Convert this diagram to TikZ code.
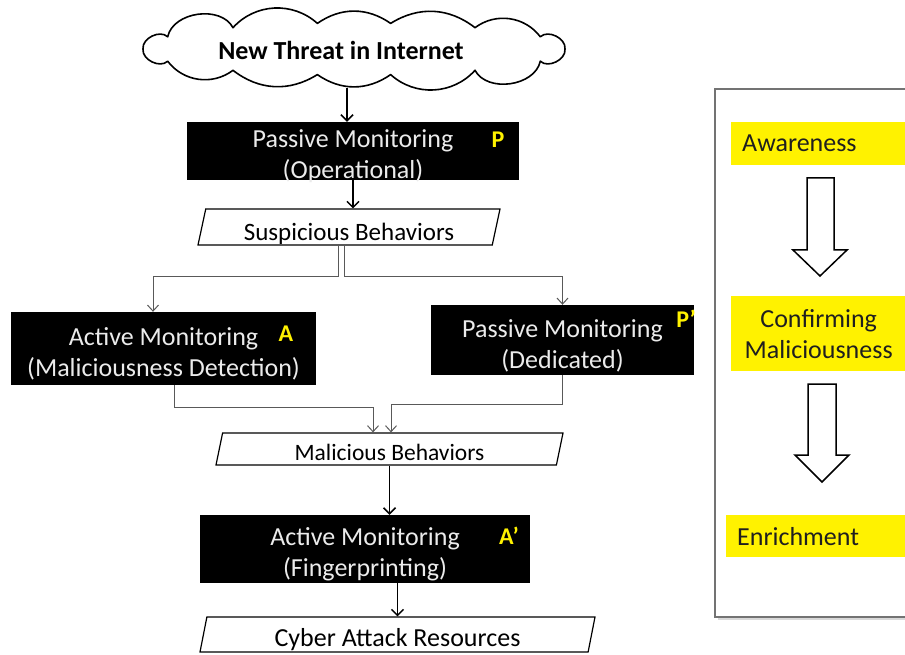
\documentclass[tikz,border=0pt]{standalone}
\usepackage{fontspec}
\setmainfont{Carlito}
\usetikzlibrary{shapes.geometric,arrows.meta}
\begin{document}
\begin{tikzpicture}[x=1pt,y=-1pt,
 blackbox/.style={fill=black, inner sep=0},
 boxtext/.style={text=white!92!black, inner sep=0, align=center, font=\fontsize{26}{31}\selectfont, yshift=-5.5pt},
 para/.style={draw=black, line width=1.2pt, trapezium, trapezium left angle=74, trapezium right angle=106, trapezium stretches body, inner sep=0, text depth=0pt},
 mainarr/.style={draw=black, line width=1.5pt, -{Straight Barb[length=6pt,width=12pt]}},
 thinarr/.style={draw=black!65, line width=1pt, -{Straight Barb[length=6pt,width=11pt]}},
 tag/.style={text=yellow, font=\bfseries\fontsize{24}{24}\selectfont, inner sep=0},
 ybox/.style={fill=yellow, inner sep=0, text=black!88, font=\fontsize{26}{31}\selectfont, anchor=north west},
 hollow/.style={draw=black, line width=1.5pt, fill=white, line join=miter},
 panel/.style={draw=black!55, line width=1.5pt},
 cloudline/.style={draw=black, line width=1.6pt, fill=white, line join=round}
]
\useasboundingbox (0,0) rectangle (905,655);

% cloud
\node[ellipse, minimum width=424, minimum height=78, inner sep=0] (cloud) at (354,49) {};
\draw[cloudline] ({354+211},49)
  \foreach \t/\b in {28/70,55/45,80/35,100/35,125/45,152/70,180/70,208/70,235/45,260/35,280/35,305/45,332/70,360/70}
  { to[bend right=\b] ({354+211*cos(\t)},{49-26*sin(\t)}) } -- cycle;
\node[font=\bfseries\fontsize{26}{30}\selectfont, inner sep=0] (cloudtxt) at (341,50) {New Threat in Internet};

% black boxes
\node[blackbox, minimum width=332, minimum height=58,
  label={[boxtext]center:Passive Monitoring\\(Operational)}] (P) at (353,151) {};
\node[blackbox, minimum width=305, minimum height=73,
  label={[boxtext]center:Active Monitoring\\(Maliciousness Detection)}] (A) at (163.5,348.5) {};
\node[blackbox, minimum width=263, minimum height=70,
  label={[boxtext]center:Passive Monitoring\\(Dedicated)}] (Pd) at (562.5,340) {};
\node[blackbox, minimum width=330, minimum height=68,
  label={[boxtext]center:Active Monitoring\\(Fingerprinting)}] (Af) at (365,549) {};

% tags
\node[tag] (tP) at (498,140) {P};
\node[tag] (tA) at (286,334) {A};
\node[tag] (tPd) at (686,319) {P’};
\node[tag] (tAf) at (509,536) {A’};

% parallelograms
\node[para, minimum width=302, minimum height=36, font=\fontsize{25}{30}\selectfont, text height=27pt] (susp) at (349,227) {Suspicious Behaviors};
\node[para, minimum width=347, minimum height=32, font=\fontsize{23.5}{28}\selectfont, text height=23pt] (mal) at (389.5,449) {Malicious Behaviors};
\node[para, minimum width=395, minimum height=35, font=\fontsize{26}{30}\selectfont, text height=24pt] (cyb) at (397.5,634.5) {Cyber Attack Resources};

% connectors
\draw[mainarr] ([xshift=-6]P.north |- cloud.south) -- ([xshift=-6]P.north);
\draw[mainarr] (P.south) -- (P.south |- susp.north);
\draw[thinarr] ([xshift=-11]susp.south) -- ++(0,31) -| ([xshift=-10.5]A.north);
\draw[thinarr] ([xshift=-5]susp.south) -- ++(0,31) -| (Pd.north);
\draw[thinarr] ([xshift=10.5]A.south) -- ++(0,22) -| ([xshift=-16.5]mal.north);
\draw[thinarr] (Pd.south) -- ++(0,29) -| ([xshift=1.5]mal.north);
\draw[mainarr] (mal.south) -- (mal.south |- Af.north);
\draw[mainarr] (cyb.north |- Af.south) -- (cyb.north);

% right panel
\fill[black!15] (718,617) rectangle (920,620);
\draw[panel] (715,89) rectangle (920,617);
\node[ybox, text width=153, inner xsep=11, minimum height=43, align=left] (aw) at (731,122) {Awareness};
\node[ybox, text width=175, minimum height=75, align=center] (cm) at (731,296) {Confirming\\Maliciousness};
\node[ybox, text width=158, inner xsep=11, minimum height=42, align=left] (en) at (726,515) {Enrichment};
\draw[hollow] (807,178) -- (834,178) -- (834,250) -- (847,250) -- (820,276) -- (793,250) -- (807,250) -- cycle;
\draw[hollow] (808,384) -- (836,384) -- (836,455) -- (849,455) -- (822,482) -- (795,455) -- (808,455) -- cycle;
\end{tikzpicture}
\end{document}
